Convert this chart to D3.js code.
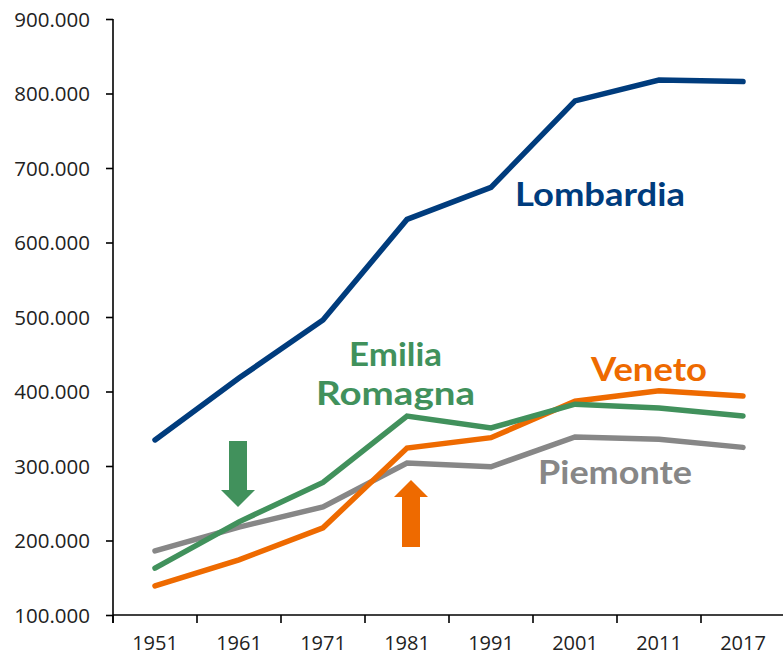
<!DOCTYPE html>
<html><head><meta charset="utf-8">
<script src="https://cdn.jsdelivr.net/npm/d3@7"></script>
<style>body{margin:0;background:#fff}svg{display:block}</style>
</head><body>
<svg id="c" width="783" height="655"></svg>
<script>
const years = ["1951","1961","1971","1981","1991","2001","2011","2017"];
const lombardia = [335000, 418000, 496000, 631000, 674000, 790000, 818000, 816000];
const emilia    = [163000, 225000, 278000, 367000, 351000, 383000, 378000, 367000];
const veneto    = [139000, 174000, 217000, 324000, 338000, 387000, 401000, 394000];
const piemonte  = [186000, 218000, 245000, 304000, 299000, 339000, 336000, 325000];
const yTicks = [100000,200000,300000,400000,500000,600000,700000,800000,900000];

const svg = d3.select("#c");
const x = d3.scaleBand().domain(years).range([113, 785]);
const y = d3.scaleLinear().domain([100000, 900000]).range([615, 19]);

// y axis
const ya = svg.append("g").attr("transform","translate(113,0)")
  .call(d3.axisLeft(y).tickValues(yTicks).tickSize(7).tickPadding(16).tickFormat(v => (v/1000) + ".000"));
ya.select(".domain").attr("stroke","#000").attr("stroke-width",1.6).attr("d","M0,19V623");
ya.selectAll(".tick line").attr("stroke","#000").attr("stroke-width",1.6);
ya.selectAll(".tick text").attr("font-family","Open Sans").attr("font-size",20.5).attr("fill","#222").attr("dy","0.36em");

// x axis
const xa = svg.append("g").attr("transform","translate(0,615)");
xa.append("line").attr("x1",113).attr("x2",785).attr("stroke","#000").attr("stroke-width",1.6);
const bounds = years.map(d => x(d)).concat([x(years[years.length-1]) + x.bandwidth()]);
xa.selectAll("line.t").data(bounds).join("line").attr("class","t")
  .attr("x1",d=>d).attr("x2",d=>d).attr("y1",0).attr("y2",8).attr("stroke","#000").attr("stroke-width",1.6);
xa.selectAll("text").data(years).join("text")
  .attr("x", d => x(d) + x.bandwidth()/2).attr("y", 35)
  .attr("text-anchor","middle").attr("font-family","Open Sans").attr("font-size",20).attr("fill","#222").text(d=>d);

const series = [
  {v: piemonte, c: "#878787"},
  {v: veneto, c: "#EE6A00"},
  {v: emilia, c: "#41915C"},
  {v: lombardia, c: "#003C7D"}
];
const line = d3.line().x((d,i) => x(years[i]) + x.bandwidth()/2).y(d => y(d));
series.forEach(s => {
  svg.append("path").attr("d", line(s.v)).attr("fill","none").attr("stroke", s.c)
    .attr("stroke-width",5.5).attr("stroke-linecap","round").attr("stroke-linejoin","miter");
});

// labels
const labels = [
  {t:"Lombardia", x:515, y:206, w:170, c:"#003C7D"},
  {t:"Emilia", x:349, y:366, w:93, c:"#41915C"},
  {t:"Romagna", x:316, y:405, w:159, c:"#41915C"},
  {t:"Veneto", x:591, y:381, w:116, c:"#EE6A00"},
  {t:"Piemonte", x:538, y:484, w:154, c:"#878787"}
];
svg.selectAll("text.lab").data(labels).join("text").attr("class","lab")
  .attr("x",d=>d.x).attr("y",d=>d.y).attr("fill",d=>d.c)
  .attr("font-family","Lato").attr("font-weight","bold").attr("font-size",32)
  .attr("textLength",d=>d.w).attr("lengthAdjust","spacingAndGlyphs").text(d=>d.t);

// arrows
svg.append("path").attr("fill","#41915C")
  .attr("d","M229,441H247V490H255L238,507L221,490H229Z");
svg.append("path").attr("fill","#EE6A00")
  .attr("d","M402,547H420V497H428L411,480L394,497H402Z");
</script>
</body></html>
